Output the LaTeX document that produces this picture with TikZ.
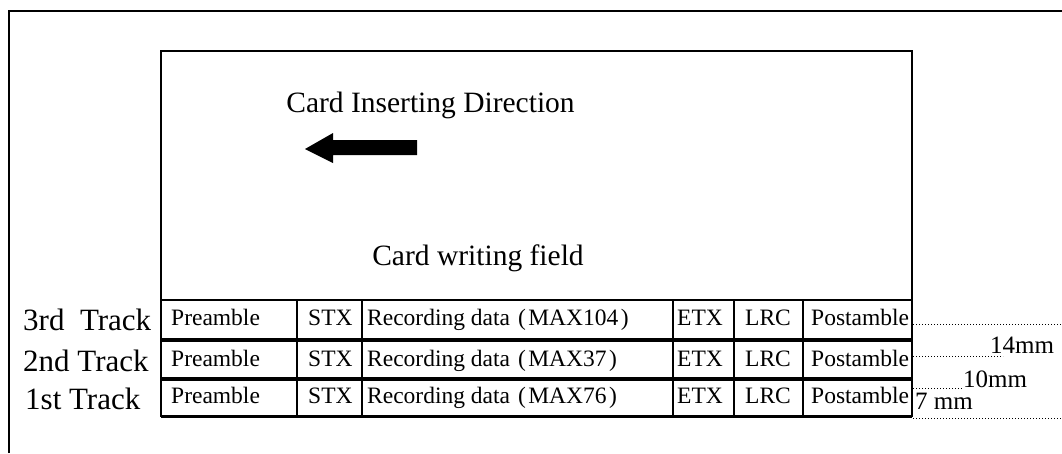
\documentclass[tikz,border=0pt]{standalone}
\usepackage{fontspec}
\setmainfont{Liberation Serif}
\begin{document}
\begin{tikzpicture}[x=1pt,y=-1pt,
  frame/.style={line width=2pt},
  gridline/.style={line width=1.7pt},
  sepline/.style={line width=3.6pt},
  guide/.style={dotted,line width=1pt},
  cell/.style={anchor=base west,inner sep=0pt,font=\fontsize{23.5}{24}\selectfont},
  track/.style={anchor=base west,inner sep=0pt,font=\fontsize{31}{32}\selectfont},
  title/.style={anchor=base,inner sep=0pt,font=\fontsize{29.5}{30}\selectfont},
  dim/.style={anchor=base west,inner sep=0pt,font=\fontsize{25}{26}\selectfont}]
\useasboundingbox (0,0) rectangle (1062,453);
% outer frame (cut off at right and bottom)
\draw[frame] (9,453) -- (9,11) -- (1062,11);
% card box
\draw[frame] (161,51) rectangle (912,300);
\node[title] (dir) at (430.5,112) {Card Inserting Direction};
\fill (305,149) -- (333,133) -- (333,140) -- (417,140) -- (417,155) -- (333,155) -- (333,163) -- cycle;
\node[title] (field) at (478,265) {Card writing field};
% table grid
\draw[gridline] (161,300) -- (161,417);
\draw[gridline] (912,300) -- (912,417);
\foreach \cx in {297,362,673,734,803} \draw[gridline] (\cx,300) -- (\cx,417);
\draw[sepline] (161,340) -- (912,340);
\draw[sepline] (161,379) -- (912,379);
\draw[sepline] (161,416.5) -- (912,416.5);
% track labels
\node[track] (t3) at (23,330) {3rd~~Track};
\node[track] (t2) at (23,371) {2nd Track};
\node[track] (t1) at (25,409) {1st Track};
% cells
\foreach \r/\yb/\mx in {3/325/104,2/366/37,1/403/76}{
  \node[cell] (pre\r) at (171,\yb) {Preamble};
  \node[cell] (stx\r) at (308,\yb) {STX};
  \node[cell] (rec\r) at (367,\yb) {Recording data\hspace{2pt} (\hspace{2.5pt}MAX\mx\hspace{2.5pt})};
  \node[cell] (etx\r) at (677,\yb) {ETX};
  \node[cell] (lrc\r) at (745,\yb) {LRC};
  \node[cell] (post\r) at (811,\yb) {Postamble};
}
% dimension guides
\coordinate (g3a) at (913,324); \coordinate (g3b) at (1062,324);
\coordinate (g2a) at (913,356); \coordinate (g2b) at (1003,356);
\coordinate (g1a) at (913,388); \coordinate (g1b) at (962,388);
\coordinate (g0a) at (913,418.5); \coordinate (g0b) at (1062,418.5);
\draw[guide] (g3a) -- (g3b);
\draw[guide] (g2a) -- (g2b);
\draw[guide] (g1a) -- (g1b);
\draw[guide] (g0a) -- (g0b);
\node[dim] (d14) at (990,353) {14mm};
\node[dim] (d10) at (963,387) {10mm};
\node[dim] (d7) at (915,409) {7 mm};
\end{tikzpicture}
\end{document}
